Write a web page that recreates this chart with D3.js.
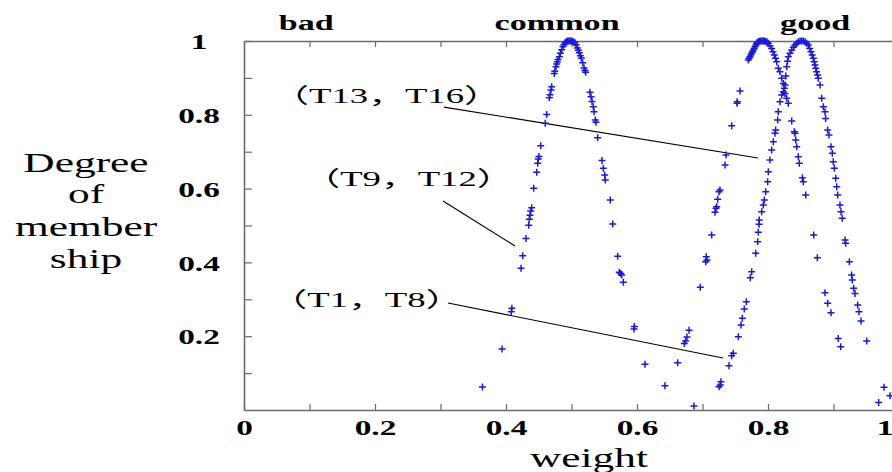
<!DOCTYPE html>
<html>
<head>
<meta charset="utf-8">
<script src="https://cdn.jsdelivr.net/npm/d3@7"></script>
<style>
  html, body { margin: 0; padding: 0; background: #fff; }
  svg { display: block; }
</style>
</head>
<body>
<svg id="chart" width="892" height="472"></svg>
<script>
// ---------------- data ----------------
const categories = ["bad", "common", "good"];
const categoryWeights = [0.095, 0.478, 0.872];

const xTickValues = [0, 0.1, 0.2, 0.3, 0.4, 0.5, 0.6, 0.7, 0.8, 0.9, 1.0];
const xTickLabels = ["0", "", "0.2", "", "0.4", "", "0.6", "", "0.8", "", "1"];
const yTickValues = [0.1, 0.2, 0.3, 0.4, 0.5, 0.6, 0.7, 0.8, 0.9, 1.0];
const yTickLabels = ["", "0.2", "", "0.4", "", "0.6", "", "0.8", "", "1"];

const yTitleLines = ["Degree", "of", "member", "ship"];
const xTitle = "weight";

// (T9, T12) : "common"
const seriesT9T12 = [
  [0.364,0.062],[0.394,0.165],[0.408,0.266],[0.409,0.276],[0.423,0.384],[0.4255,0.418],[0.4305,0.465],
  [0.4347,0.501],[0.4356,0.517],[0.4366,0.528],[0.4377,0.539],[0.4392,0.548],[0.4423,0.601],[0.4469,0.644],
  [0.4484,0.669],[0.4493,0.680],[0.4504,0.687],[0.453,0.716],[0.46,0.777],[0.4621,0.801],[0.4661,0.846],
  [0.4672,0.854],[0.4687,0.867],[0.4698,0.876],[0.4737,0.912],[0.4745,0.918],[0.4763,0.930],[0.4775,0.938],
  [0.4783,0.944],[0.4795,0.950],[0.4814,0.957],[0.4830,0.967],[0.485,0.976],[0.4870,0.985],[0.4885,0.990],
  [0.4901,0.995],[0.4920,0.998],[0.4940,1.0],[0.4960,1.0],[0.4977,1.0],[0.4995,1.0],[0.5015,0.999],
  [0.5035,0.997],[0.5053,0.995],[0.507,0.99],[0.5089,0.981],[0.5105,0.975],[0.5119,0.968],[0.5135,0.96],
  [0.515,0.954],[0.5171,0.941],[0.5191,0.927],[0.5205,0.92],[0.5217,0.915],[0.5282,0.861],[0.5298,0.849],
  [0.5313,0.836],[0.5333,0.822],[0.5344,0.808],[0.5363,0.786],[0.5374,0.780],[0.54,0.738],[0.5466,0.676],
  [0.5486,0.655],[0.5507,0.637],[0.5516,0.623],[0.5592,0.569],[0.5629,0.504],[0.5705,0.417],[0.573,0.373],
  [0.5751,0.370],[0.5766,0.366],[0.5791,0.346],[0.5954,0.2195],[0.5960,0.226],[0.6122,0.124],[0.6427,0.066]
];

// (T13, T16)
const seriesT13T16 = [
  [0.6621,0.128],[0.6722,0.180],[0.6743,0.187],[0.6763,0.198],[0.6794,0.216],[0.6966,0.3325],[0.7049,0.402],
  [0.7058,0.4154],[0.7069,0.4065],[0.714,0.474],[0.7191,0.536],[0.7206,0.5466],[0.7217,0.551],[0.7232,0.571],
  [0.7252,0.5916],[0.7267,0.596],[0.7344,0.664],[0.7359,0.691],[0.7446,0.770],[0.7527,0.831],[0.7531,0.8355],
  [0.7573,0.8645],[0.7699,0.9485],[0.7712,0.953],[0.7725,0.9575],[0.7738,0.962],[0.7751,0.9667],[0.7764,0.971],
  [0.7776,0.9756],[0.779,0.98],[0.7802,0.9846],[0.7815,0.989],[0.7827,0.9938],[0.784,0.996],[0.7852,0.998],
  [0.787,0.999],[0.789,1.0],[0.791,1.0],[0.7928,1.0],[0.795,1.0],[0.797,0.998],[0.7985,0.997],[0.8005,0.994],
  [0.803,0.987],[0.8056,0.980],[0.8076,0.971],[0.8096,0.962],[0.8115,0.953],[0.8133,0.944],[0.8157,0.926],
  [0.8183,0.917],[0.8209,0.899],[0.8234,0.885],[0.8249,0.872],[0.826,0.858],[0.8285,0.845],[0.831,0.831],
  [0.8362,0.783],[0.8402,0.754],[0.8412,0.750],[0.8423,0.732],[0.8438,0.7135],[0.8463,0.6865],[0.8478,0.6686],
  [0.8524,0.6295],[0.8539,0.6187],[0.8576,0.5827],[0.8698,0.474],[0.8753,0.4127],[0.8870,0.318],[0.8911,0.289],
  [0.8962,0.2637],[0.9073,0.194],[0.911,0.1715]
];

// (T1, T8) : "good"
const seriesT1T8 = [
  [0.687,0.011],[0.7252,0.063],[0.7272,0.068],[0.7282,0.0767],[0.7405,0.120],[0.7446,0.147],[0.747,0.1537],
  [0.7547,0.1986],[0.7588,0.2304],[0.7608,0.2485],[0.7638,0.2737],[0.7669,0.2935],[0.773,0.3585],[0.7751,0.3748],
  [0.7812,0.4247],[0.7843,0.456],[0.7852,0.4816],[0.7863,0.5033],[0.7867,0.515],[0.7904,0.537],[0.7928,0.5556],
  [0.7944,0.569],[0.7965,0.5916],[0.7995,0.6187],[0.8005,0.6458],[0.803,0.6775],[0.8056,0.7046],[0.8081,0.727],
  [0.8107,0.750],[0.8117,0.7588],[0.8148,0.786],[0.8157,0.808],[0.8183,0.8355],[0.8209,0.8537],[0.8234,0.8626],
  [0.826,0.8808],[0.8272,0.905],[0.8285,0.930],[0.8298,0.945],[0.831,0.9575],[0.8336,0.967],[0.8362,0.9756],
  [0.8387,0.983],[0.8412,0.989],[0.8438,0.994],[0.8463,0.998],[0.849,1.0],[0.8515,1.0],[0.854,1.0],
  [0.8565,0.998],[0.859,0.994],[0.8615,0.989],[0.8636,0.980],[0.8656,0.971],[0.8674,0.962],[0.8692,0.953],
  [0.8705,0.944],[0.8718,0.935],[0.8730,0.926],[0.8743,0.917],[0.8756,0.908],[0.8768,0.899],[0.8794,0.8808],
  [0.882,0.845],[0.8845,0.822],[0.8870,0.808],[0.888,0.790],[0.8911,0.759],[0.8931,0.745],[0.8962,0.7136],
  [0.8982,0.6956],[0.8997,0.673],[0.9013,0.655],[0.9034,0.628],[0.9049,0.605],[0.9064,0.5827],[0.9099,0.5556],
  [0.9115,0.537],[0.9134,0.5195],[0.9176,0.4607],[0.9186,0.4517],[0.9242,0.402],[0.9277,0.366],[0.9287,0.352],
  [0.9308,0.33],[0.9328,0.316],[0.9369,0.2846],[0.9389,0.2665],[0.942,0.2412],[0.9507,0.187],[0.969,0.020],
  [0.9771,0.0615],[0.9863,0.0388]
];

// annotations: label, label anchor [weight, degree], leader line start & end
const annotationLabels = ["（T13，T16）", "（T9，T12）", "（T1，T8）"];
const annotationAnchors = [[0.2176, 0.832], [0.2511, 0.607], [0.187, 0.279]];
const annotationLines = [
  [[0.3053, 0.821], [0.7847, 0.683]],
  [[0.3038, 0.5664], [0.4137, 0.4444]],
  [[0.3115, 0.290], [0.7313, 0.1409]]
];

// ---------------- chart ----------------
const svg = d3.select("#chart");
const X0 = 244, X1 = 899, Y0 = 410, Y1 = 41;
const SX = 1.55; // horizontal stretch of the lettering
const x = d3.scaleLinear().domain([0, 1]).range([X0, X1]);
const y = d3.scaleLinear().domain([0, 1]).range([Y0, Y1]);

const serifBold = "'Liberation Serif', 'Times New Roman', serif";
const axisColor = "#6a6a6a";

// bottom axis
const gx = svg.append("g").attr("transform", `translate(0,${Y0})`)
  .call(d3.axisBottom(x).tickValues(xTickValues).tickSizeInner(-6).tickSizeOuter(0)
    .tickFormat((d, i) => xTickLabels[i]));
gx.select(".domain").attr("stroke", axisColor).attr("stroke-width", 1.6);
gx.selectAll(".tick line").attr("stroke", axisColor).attr("stroke-width", 1.2);
gx.selectAll(".tick text")
  .attr("y", 25).attr("dy", 0)
  .attr("font-family", serifBold).attr("font-weight", "bold").attr("font-size", 21.5)
  .attr("fill", "#000")
  .attr("transform", `scale(${SX},1)`)
  .filter((d, i) => i === xTickValues.length - 1)
  .attr("text-anchor", "end").attr("x", -4);

// top axis (ticks only)
const gt = svg.append("g").attr("transform", `translate(0,${Y1})`)
  .call(d3.axisTop(x).tickValues(xTickValues.slice(1, -1)).tickSizeInner(-6).tickSizeOuter(0)
    .tickFormat(""));
gt.select(".domain").attr("stroke", axisColor).attr("stroke-width", 1.6);
gt.selectAll(".tick line").attr("stroke", axisColor).attr("stroke-width", 1.2);

// left axis
const gy = svg.append("g").attr("transform", `translate(${X0},0)`)
  .call(d3.axisLeft(y).tickValues(yTickValues).tickSizeInner(-8).tickSizeOuter(0)
    .tickFormat((d, i) => yTickLabels[i]));
gy.select(".domain").attr("stroke", axisColor).attr("stroke-width", 1.6);
gy.selectAll(".tick line").attr("stroke", axisColor).attr("stroke-width", 1.2);
gy.selectAll(".tick text")
  .attr("x", -45 / SX).attr("dy", "0.36em").attr("text-anchor", "middle")
  .attr("font-family", serifBold).attr("font-weight", "bold").attr("font-size", 21.5)
  .attr("fill", "#000")
  .attr("transform", `scale(${SX},1)`);

// category labels on top
svg.append("g").selectAll("text").data(categories).join("text")
  .attr("transform", (d, i) => `translate(${x(categoryWeights[i])},30) scale(${SX},1)`)
  .attr("text-anchor", "middle")
  .attr("font-family", serifBold).attr("font-weight", "bold").attr("font-size", 22)
  .attr("fill", "#000")
  .text(d => d);

// y title
const yBase = [172, 203, 236, 268];
svg.append("g").selectAll("text").data(yTitleLines).join("text")
  .attr("transform", (d, i) => `translate(86,${yBase[i]}) scale(${SX},1)`)
  .attr("text-anchor", "middle")
  .attr("font-family", serifBold).attr("font-size", 28)
  .attr("fill", "#000")
  .text(d => d);

// x title
svg.append("text")
  .attr("transform", `translate(589,467) scale(${SX},1)`)
  .attr("text-anchor", "middle")
  .attr("font-family", serifBold).attr("font-size", 28)
  .attr("fill", "#000")
  .text(xTitle);

// annotation leader lines
svg.append("g").selectAll("line").data(annotationLines).join("line")
  .attr("x1", d => x(d[0][0])).attr("y1", d => y(d[0][1]))
  .attr("x2", d => x(d[1][0])).attr("y2", d => y(d[1][1]))
  .attr("stroke", "#000").attr("stroke-width", 1.2);

// annotation labels
svg.append("g").selectAll("text").data(annotationLabels).join("text")
  .attr("transform", (d, i) => `translate(${x(annotationAnchors[i][0])},${y(annotationAnchors[i][1])}) scale(1.75,1)`)
  .attr("text-anchor", "middle")
  .attr("font-family", "'Liberation Serif', 'Noto Sans CJK SC', serif").attr("font-size", 21)
  .attr("fill", "#000")
  .text(d => d);

// data markers (+)
const plus = "M-3.5,0H3.5M0,-3.5V3.5";
const allSeries = [seriesT1T8, seriesT9T12, seriesT13T16];
const gm = svg.append("g");
allSeries.forEach(s => {
  gm.append("g").selectAll("path").data(s).join("path")
    .attr("transform", d => `translate(${x(d[0])},${y(d[1])})`)
    .attr("d", plus)
    .attr("fill", "none")
    .attr("stroke", "#1a1ad6")
    .attr("stroke-width", 1.5);
});
</script>
</body>
</html>
